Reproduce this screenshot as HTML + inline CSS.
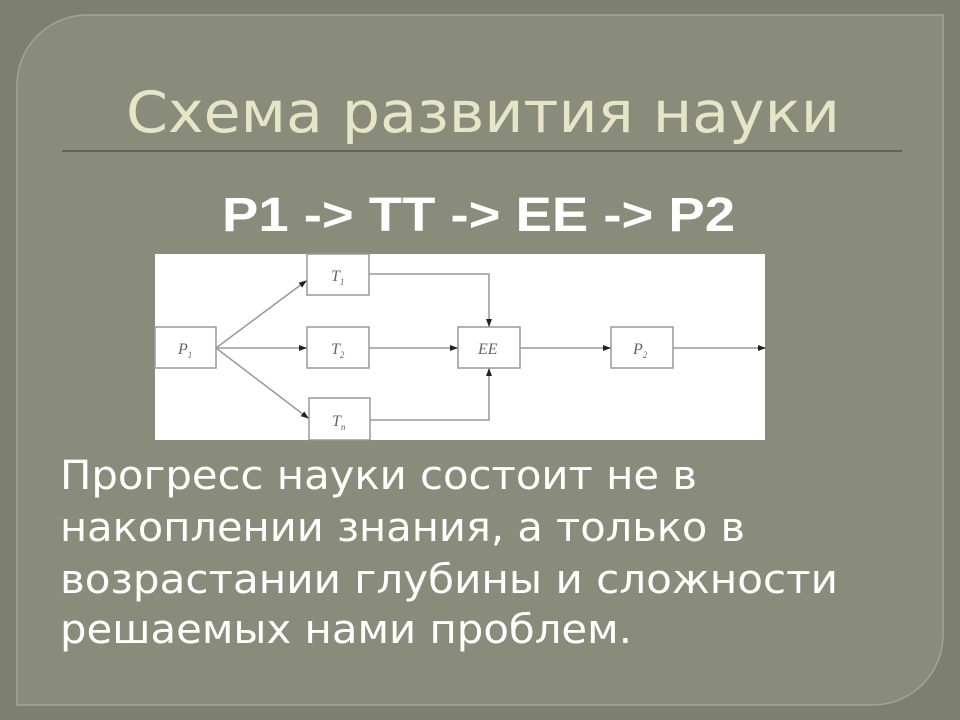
<!DOCTYPE html>
<html><head><meta charset="utf-8"><style>
html,body{margin:0;padding:0;width:960px;height:720px;overflow:hidden;background:#7d7f6f;}
</style></head><body>
<svg width="960" height="720" viewBox="0 0 960 720" xmlns="http://www.w3.org/2000/svg">
<defs>
<marker id="a" markerWidth="8" markerHeight="8" refX="7" refY="4" orient="auto" markerUnits="userSpaceOnUse"><path d="M0,1 L8,4 L0,7 z" fill="#222"/></marker>
</defs>
<rect x="0" y="0" width="960" height="720" fill="#7d7f6f"/>
<path d="M87,15 H943 V635 A70,70 0 0 1 873,705 H17 V85 A70,70 0 0 1 87,15 Z" fill="#898b7b" stroke="#a3a593" stroke-width="1.5"/>
<text x="126" y="132" font-family="DejaVu Sans, sans-serif" font-size="57" fill="#e6e6c6" textLength="714" lengthAdjust="spacingAndGlyphs">Схема развития науки</text>
<line x1="62" y1="151" x2="902" y2="151" stroke="#4e5a48" stroke-width="1.5"/>
<text x="222" y="231" font-family="Liberation Sans, DejaVu Sans, sans-serif" font-weight="bold" font-size="48" fill="#fff" textLength="513" lengthAdjust="spacingAndGlyphs">P1 -&gt; TT -&gt; EE -&gt; P2</text>
<rect x="155" y="254" width="610" height="186" fill="#fff"/>
<g fill="#fff" stroke="#999" stroke-width="1.5">
<rect x="155" y="327" width="61" height="41"/>
<rect x="307" y="254" width="62" height="41"/>
<rect x="307" y="327" width="62" height="41"/>
<rect x="309" y="398" width="61" height="42"/>
<rect x="458" y="327" width="62" height="41"/>
<rect x="611" y="327" width="62" height="41"/>
</g>
<g stroke="#999" stroke-width="1.5" fill="none" marker-end="url(#a)">
<line x1="216" y1="348" x2="306" y2="281"/>
<line x1="216" y1="348" x2="306" y2="348"/>
<line x1="216" y1="348" x2="308" y2="418"/>
<line x1="369" y1="348" x2="457" y2="348"/>
<line x1="520" y1="348" x2="610" y2="348"/>
<line x1="673" y1="348" x2="765" y2="348"/>
<polyline points="369,274 489,274 489,326"/>
<polyline points="370,420 489,420 489,369"/>
</g>
<g font-family="Liberation Serif, serif" font-style="italic" font-size="16" fill="#666">
<text x="178" y="354">P<tspan font-size="9" dy="4">1</tspan></text>
<text x="331" y="281">T<tspan font-size="9" dy="4">1</tspan></text>
<text x="331" y="354">T<tspan font-size="9" dy="4">2</tspan></text>
<text x="332" y="426">T<tspan font-size="9" dy="4">n</tspan></text>
<text x="478" y="354">EE</text>
<text x="633" y="354">P<tspan font-size="9" dy="4">2</tspan></text>
</g>
<g font-family="DejaVu Sans, sans-serif" font-size="40" fill="#fff">
<text x="60" y="489" textLength="637" lengthAdjust="spacingAndGlyphs">Прогресс науки состоит не в</text>
<text x="60" y="541" textLength="685" lengthAdjust="spacingAndGlyphs">накоплении знания, а только в</text>
<text x="60" y="593" textLength="778" lengthAdjust="spacingAndGlyphs">возрастании глубины и сложности</text>
<text x="60" y="643" textLength="572" lengthAdjust="spacingAndGlyphs">решаемых нами проблем.</text>
</g>
</svg>
</body></html>
